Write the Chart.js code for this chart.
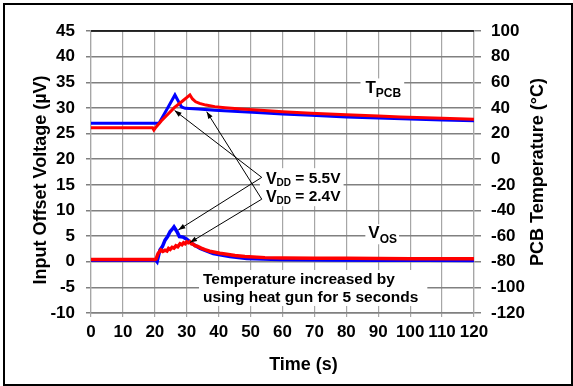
<!DOCTYPE html>
<html>
<head>
<meta charset="utf-8">
<script src="https://cdn.jsdelivr.net/npm/chart.js@4.4.1/dist/chart.umd.min.js"></script>
<style>
  html, body { margin: 0; padding: 0; background: #fff; }
  #wrap { width: 573px; height: 386px; }
</style>
</head>
<body>
<div id="wrap"><canvas id="chart" width="573" height="386"></canvas></div>
<script>
// Axis ticks
const timeTicks = [0, 10, 20, 30, 40, 50, 60, 70, 80, 90, 100, 110, 120];
const voltTicks = [-10, -5, 0, 5, 10, 15, 20, 25, 30, 35, 40, 45];
const tempTicks = [-120, -100, -80, -60, -40, -20, 0, 20, 40, 60, 80, 100];

// PCB temperature (°C), VDD = 5.5V (blue) and VDD = 2.4V (red)
const tempBlueTime = [0, 20, 21.3, 23, 24.5, 26.3, 27.7, 28.4, 29.5, 33.6, 38.8, 46, 52, 60, 69, 80, 90, 100, 110, 120];
const tempBlue     = [28, 28, 28, 35.5, 42, 50.1, 43.6, 40.7, 39.7, 39.2, 38.2, 37.2, 36.5, 35.3, 34.2, 33.0, 32.1, 31.3, 30.6, 30.0];
const tempRedTime  = [0, 19.3, 19.7, 20.2, 22, 26.1, 28.5, 31.0, 31.8, 32.8, 34, 36, 38.8, 42, 47, 52, 60, 69, 80, 90, 97, 110, 120];
const tempRed      = [24.6, 24.6, 22.8, 24.5, 29.8, 40.2, 45, 50.1, 47, 44.8, 43.5, 42.2, 41.0, 40.2, 39.2, 38.4, 37.0, 35.8, 34.6, 33.6, 33.0, 32.0, 31.1];

// Input offset voltage (µV)
const vosBlueTime = [0, 20.3, 20.7, 21.6, 22.4, 23.2, 24.0, 24.8, 25.4, 26.0, 26.9, 27.7, 28.9, 30.0, 31.5, 34.2, 38.3, 43.5, 48.8, 59.2, 75, 90, 105, 120];
const vosBlue     = [0.3, 0.3, 0.0, 2.3, 3.0, 4.2, 4.9, 5.9, 6.3, 6.8, 5.9, 4.9, 4.8, 4.4, 3.6, 2.6, 1.6, 1.0, 0.65, 0.45, 0.35, 0.3, 0.3, 0.25];
const vosRedTime  = [0, 20.0, 20.4, 21.0, 21.9, 22.5, 23.2, 23.8, 24.3, 24.8, 25.4, 26.0, 26.6, 27.2, 27.9, 28.5, 29.0, 29.5, 30.0, 30.5, 31.0, 31.5, 32.0, 32.6, 33.3, 34.5, 35.7, 37.2, 38.8, 40.4, 42.0, 45.1, 48.2, 54.5, 60, 70, 80, 90, 100, 110, 120];
const vosRed      = [0.45, 0.45, 0.55, 1.6, 2.3, 2.0, 2.25, 2.1, 2.6, 2.4, 2.8, 2.65, 3.1, 2.9, 3.5, 3.3, 3.7, 3.5, 3.9, 3.7, 3.9, 3.5, 3.45, 3.1, 3.05, 2.65, 2.35, 2.05, 1.85, 1.65, 1.5, 1.2, 1.0, 0.8, 0.75, 0.7, 0.7, 0.65, 0.6, 0.6, 0.6];

const FONT = "'Liberation Sans', Arial, sans-serif";
const BLUE = 'rgb(0, 0, 255)';
const RED = 'rgb(255, 0, 0)';

function pts(xs, ys) {
  return xs.map((x, i) => ({ x: x, y: ys[i] }));
}

// text pieces: [text, font size, vertical shift]
function partsWidth(ctx, parts) {
  let w = 0;
  parts.forEach(p => {
    ctx.font = `bold ${p[1]}px ${FONT}`;
    w += ctx.measureText(p[0]).width;
  });
  return w;
}
function drawParts(ctx, parts, x, y) {
  let cx = x;
  parts.forEach(p => {
    ctx.font = `bold ${p[1]}px ${FONT}`;
    ctx.fillText(p[0], cx, y + p[2]);
    cx += ctx.measureText(p[0]).width;
  });
}

// labels placed in axis units (time, µV)
const notes = [
  { t: 86.0, v: 33.8, box: [5, 3, 10, 11], lines: [[['T', 17, 0], ['PCB', 12, 5]]] },
  { t: 86.9, v: 5.55, box: [3, 2, 9, 11], lines: [[['V', 17, 0], ['OS', 12, 6.4]]] },
  { t: 54.8, v: 16.1, box: [6, 3, 11, 9], gap: 18,
    lines: [[['V', 16, 0], ['DD', 10, 4.5], [' = 5.5V', 15.5, 0]],
            [['V', 16, 0], ['DD', 10, 4.5], [' = 2.4V', 15.5, 0]]] },
  { t: 35.1, v: -3.56, box: [4, 9, 10, 8], gap: 18,
    lines: [[['Temperature increased by', 15.5, 0]],
            [['using heat gun for 5 seconds', 15.5, 0]]] }
];
// arrows: from (t, µV) to (t, µV)
const arrows = [
  [53.5, 16.45, 26.2, 29.5],
  [53.5, 16.45, 27.35, 6.2],
  [53.5, 12.2, 36.25, 29.25],
  [53.5, 12.2, 31.0, 3.75]
];

const decor = {
  id: 'decor',
  beforeDraw(chart) {
    const ctx = chart.ctx;
    ctx.save();
    ctx.fillStyle = '#fff';
    ctx.fillRect(0, 0, chart.width, chart.height);
    ctx.restore();
  },
  afterDatasetsDraw(chart) {
    const ctx = chart.ctx;
    const sx = chart.scales.x, sy = chart.scales.y;
    ctx.save();
    ctx.textBaseline = 'middle';
    ctx.textAlign = 'left';
    notes.forEach(n => {
      const x = sx.getPixelForValue(n.t);
      const y = sy.getPixelForValue(n.v);
      const gap = n.gap || 0;
      let w = 0;
      n.lines.forEach(l => { w = Math.max(w, partsWidth(ctx, l)); });
      const h = gap * (n.lines.length - 1);
      ctx.fillStyle = '#fff';
      ctx.fillRect(x - n.box[0], y - n.box[2], w + n.box[0] + n.box[1], h + n.box[2] + n.box[3]);
      ctx.fillStyle = '#000';
      n.lines.forEach((l, i) => drawParts(ctx, l, x, y + i * gap));
    });
    ctx.strokeStyle = '#000';
    ctx.fillStyle = '#000';
    ctx.lineWidth = 1;
    arrows.forEach(a => {
      const x0 = sx.getPixelForValue(a[0]), y0 = sy.getPixelForValue(a[1]);
      const x1 = sx.getPixelForValue(a[2]), y1 = sy.getPixelForValue(a[3]);
      const ang = Math.atan2(y1 - y0, x1 - x0);
      ctx.beginPath();
      ctx.moveTo(x0, y0);
      ctx.lineTo(x1, y1);
      ctx.stroke();
      ctx.beginPath();
      ctx.moveTo(x1, y1);
      ctx.lineTo(x1 - 7 * Math.cos(ang) + 2.5 * Math.sin(ang), y1 - 7 * Math.sin(ang) - 2.5 * Math.cos(ang));
      ctx.lineTo(x1 - 7 * Math.cos(ang) - 2.5 * Math.sin(ang), y1 - 7 * Math.sin(ang) + 2.5 * Math.cos(ang));
      ctx.closePath();
      ctx.fill();
    });
    ctx.restore();
  },
  afterDraw(chart) {
    const ctx = chart.ctx;
    const area = chart.chartArea;
    ctx.save();
    ctx.fillStyle = '#000';
    ctx.font = `bold 18px ${FONT}`;
    ctx.textAlign = 'center';
    ctx.textBaseline = 'middle';
    ctx.fillText('Time (s)', 303.5, 365);
    ctx.translate(41, 180);
    ctx.rotate(-Math.PI / 2);
    ctx.fillText('Input Offset Voltage (µV)', 0, 0);
    ctx.restore();
    ctx.save();
    ctx.fillStyle = '#000';
    ctx.font = `bold 18px ${FONT}`;
    ctx.textAlign = 'center';
    ctx.textBaseline = 'middle';
    ctx.translate(538, 172);
    ctx.rotate(-Math.PI / 2);
    ctx.fillText('PCB Temperature (°C)', 0, 0);
    ctx.restore();
    // plot top edge and outer frame
    ctx.save();
    ctx.strokeStyle = '#000';
    ctx.lineWidth = 1.5;
    ctx.beginPath();
    ctx.moveTo(area.left, area.top);
    ctx.lineTo(area.right, area.top);
    ctx.stroke();
    ctx.lineWidth = 2;
    ctx.strokeRect(4, 4, 568, 381);
    ctx.restore();
  }
};

const tickFont = { family: FONT, size: 17, weight: 'bold' };

new Chart(document.getElementById('chart'), {
  type: 'line',
  data: {
    datasets: [
      { data: pts(tempRedTime, tempRed), yAxisID: 'yT', borderColor: RED, borderWidth: 3, order: 1 },
      { data: pts(tempBlueTime, tempBlue), yAxisID: 'yT', borderColor: BLUE, borderWidth: 3, order: 2 },
      { data: pts(vosRedTime, vosRed), yAxisID: 'y', borderColor: RED, borderWidth: 3.5, order: 1 },
      { data: pts(vosBlueTime, vosBlue), yAxisID: 'y', borderColor: BLUE, borderWidth: 3.5, order: 2 }
    ]
  },
  options: {
    responsive: false,
    animation: false,
    layout: { padding: { top: 31, left: 0, right: 0, bottom: 0 } },
    elements: { point: { radius: 0 }, line: { tension: 0 } },
    plugins: { legend: { display: false }, tooltip: { enabled: false } },
    scales: {
      x: {
        type: 'linear', min: 0, max: 120,
        afterBuildTicks: s => { s.ticks = timeTicks.map(v => ({ value: v })); },
        afterFit: s => { s.height = 73; },
        grid: { color: '#a6a6a6', lineWidth: 1.2, tickLength: 4 },
        border: { color: '#808080', width: 1.5 },
        ticks: { font: tickFont, color: '#000', padding: 5, maxRotation: 0, autoSkip: false }
      },
      y: {
        position: 'left', min: -10, max: 45,
        afterBuildTicks: s => { s.ticks = voltTicks.map(v => ({ value: v })); },
        afterFit: s => { s.width = 91; },
        grid: { color: '#808080', lineWidth: 1.5, tickLength: 5 },
        border: { color: '#a6a6a6', width: 1.2 },
        ticks: { font: tickFont, color: '#000', padding: 11 }
      },
      yT: {
        position: 'right', min: -120, max: 100,
        afterBuildTicks: s => { s.ticks = tempTicks.map(v => ({ value: v })); },
        afterFit: s => { s.width = 99; },
        grid: { drawOnChartArea: false, color: '#808080', lineWidth: 1.5, tickLength: 7 },
        border: { color: '#a6a6a6', width: 1.2 },
        ticks: { font: tickFont, color: '#000', padding: 10 }
      }
    }
  },
  plugins: [decor]
});
</script>
</body>
</html>
